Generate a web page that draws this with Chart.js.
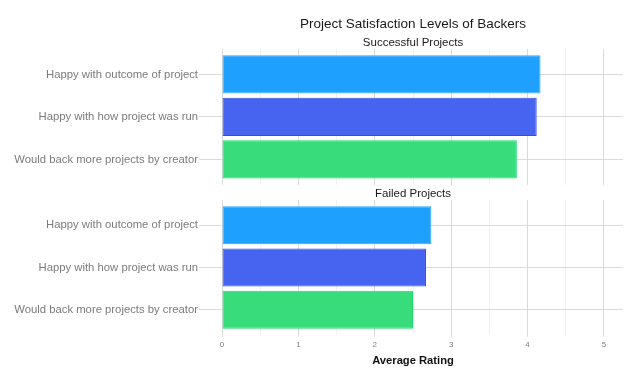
<!DOCTYPE html>
<html>
<head>
<meta charset="utf-8">
<script src="https://cdn.jsdelivr.net/npm/chart.js@4/dist/chart.umd.min.js"></script>
<style>
  html, body { margin: 0; padding: 0; background: #ffffff; }
  #wrap { position: relative; width: 640px; height: 383px; }
  canvas { position: absolute; left: 0; top: 0; }
</style>
</head>
<body>
<div id="wrap">
  <canvas id="top" width="640" height="383"></canvas>
  <canvas id="bottom" width="640" height="383"></canvas>
</div>
<script>
const chartTitle = 'Project Satisfaction Levels of Backers';
const panelTitles = ['Successful Projects', 'Failed Projects'];
const categories = ['Happy with outcome of project', 'Happy with how project was run', 'Would back more projects by creator'];
const successfulValues = [4.17, 4.12, 3.86];
const failedValues = [2.74, 2.67, 2.50];
const xTickValues = [0, 1, 2, 3, 4, 5];
const xMinorValues = [0.5, 1.5, 2.5, 3.5, 4.5];
const xAxisTitle = 'Average Rating';

const fillColors = ['#1ea1fe', '#4664ef', '#39dc7a'];
const borderColors = ['#2caaff', '#2d50e8', '#1fd96a'];
const FONT = "'Liberation Sans', Arial, Helvetica, sans-serif";

function makeData(values) {
  return {
    datasets: [{
      data: values.map((v, i) => ({ x: v, y: i + 1 })),
      backgroundColor: fillColors,
      borderColor: borderColors,
      borderWidth: 1,
      borderSkipped: false,
      categoryPercentage: 1,
      barPercentage: 0.9
    }]
  };
}

function xScale(showLabels) {
  return {
    type: 'linear',
    min: -0.25,
    max: 5.25,
    bounds: 'data',
    afterBuildTicks(scale) {
      scale.ticks = xTickValues.concat(xMinorValues).sort((a, b) => a - b).map(v => ({ value: v }));
    },
    border: { display: false },
    grid: {
      color: (ctx) => (ctx.tick && Number.isInteger(ctx.tick.value)) ? '#d9d9d9' : '#f1f1f1',
      tickColor: (ctx) => (ctx.tick && Number.isInteger(ctx.tick.value)) ? '#d9d9d9' : 'rgba(0,0,0,0)',
      lineWidth: 1,
      drawTicks: showLabels,
      tickLength: 2
    },
    ticks: {
      display: showLabels,
      autoSkip: false,
      maxRotation: 0,
      padding: 3,
      color: '#808080',
      font: { family: FONT, size: 8 },
      callback: (v) => Number.isInteger(v) ? String(v) : ''
    },
    title: {
      display: showLabels,
      text: xAxisTitle,
      color: '#111111',
      font: { family: FONT, size: 11.2, weight: 'bold' },
      padding: { top: 1.7, bottom: 0 }
    }
  };
}

function yScale() {
  return {
    type: 'linear',
    min: 0.4,
    max: 3.6,
    reverse: true,
    offset: false,
    bounds: 'data',
    afterBuildTicks(scale) {
      scale.ticks = categories.map((c, i) => ({ value: i + 1 }));
    },
    afterFit(scale) { scale.width = 203; },
    border: { display: false },
    grid: {
      offset: false,
      color: '#dadada',
      lineWidth: 1,
      tickLength: 4
    },
    ticks: {
      autoSkip: false,
      padding: 1,
      color: '#7b7b7b',
      font: { family: FONT, size: 11.3 },
      callback: (v) => categories[Math.round(v) - 1] || ''
    }
  };
}

function baseOptions(padding, titleCfg, subtitleCfg, showX) {
  return {
    responsive: false,
    animation: false,
    indexAxis: 'y',
    layout: { padding },
    plugins: {
      legend: { display: false },
      tooltip: { enabled: false },
      title: titleCfg,
      subtitle: subtitleCfg
    },
    scales: { x: xScale(showX), y: yScale() }
  };
}

new Chart(document.getElementById('top'), {
  type: 'bar',
  data: makeData(successfulValues),
  options: baseOptions(
    { left: 0, right: 17, top: 0, bottom: 198 },
    {
      display: true, text: chartTitle, fullSize: false,
      color: '#1a1a1a', font: { family: FONT, size: 13.5, weight: 'normal' },
      padding: { top: 16.5, bottom: 0 }
    },
    {
      display: true, text: panelTitles[0], fullSize: false,
      color: '#1a1a1a', font: { family: FONT, size: 11.5, weight: 'normal', lineHeight: 1.04 },
      padding: { top: 4.3, bottom: 0 }
    },
    false
  )
});

new Chart(document.getElementById('bottom'), {
  type: 'bar',
  data: makeData(failedValues),
  options: baseOptions(
    { left: 0, right: 17, top: 188, bottom: 15.3 },
    { display: false },
    {
      display: true, text: panelTitles[1], fullSize: false,
      color: '#1a1a1a', font: { family: FONT, size: 11.5, weight: 'normal', lineHeight: 1.04 },
      padding: { top: 0, bottom: 0 }
    },
    true
  )
});
</script>
</body>
</html>
